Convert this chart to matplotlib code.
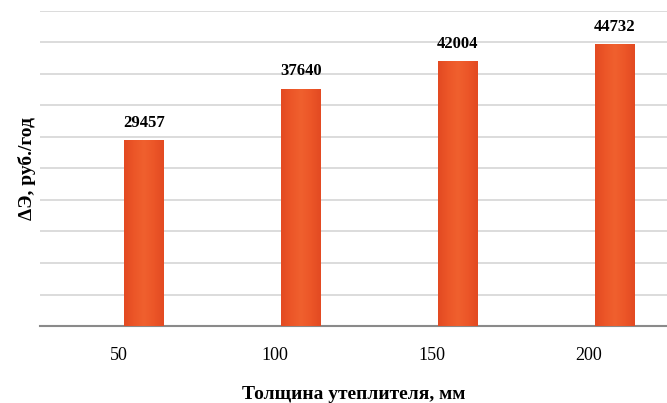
#!/usr/bin/env python3
"""Bar chart: economic effect vs insulation thickness."""

import numpy as np
import matplotlib
matplotlib.use("Agg")
import matplotlib.pyplot as plt
from matplotlib.colors import LinearSegmentedColormap

thickness = ["50", "100", "150", "200"]
effect = [29457, 37640, 42004, 44732]

plt.rcParams["font.family"] = ["Liberation Serif", "DejaVu Serif"]

figure = plt.figure(figsize=(6.67, 4.03), dpi=100)
axes = figure.add_axes([0.06, 0.191, 0.94, 0.782])

shade = LinearSegmentedColormap.from_list(
    "bar", ["#e34a22", "#ec5628", "#f0602e", "#ec5628", "#e34a22"])
gradient = np.linspace(0, 1, 64).reshape(1, -1)

positions = np.arange(len(thickness))
offset = 0.165
bars = axes.bar(positions + offset, effect, width=0.255, color="none",
                edgecolor="none", zorder=3)
for bar in bars:
    x0, y0 = bar.get_x(), bar.get_y()
    img = axes.imshow(gradient, cmap=shade, aspect="auto", zorder=3,
                      extent=[x0, x0 + bar.get_width(), y0, y0 + bar.get_height()])
    img.set_clip_path(bar)

for bar, value in zip(bars, effect):
    axes.text(bar.get_x() + bar.get_width() / 2, value + 1500, str(value),
              ha="center", va="bottom", fontsize=12, fontweight="bold", zorder=4)

axes.set_xlim(-0.5, 3.5)
axes.set_ylim(0, 50000)
axes.set_yticks(np.arange(5000, 50001, 5000))
axes.yaxis.grid(True, color="#dcdcdc", linewidth=1.4)
axes.set_axisbelow(True)
axes.tick_params(axis="y", left=False, labelleft=False)
axes.set_xticks(positions)
axes.set_xticklabels(thickness, fontsize=13)
axes.tick_params(axis="x", length=0, pad=15)
for side in ("top", "right", "left"):
    axes.spines[side].set_visible(False)
axes.spines["bottom"].set_color("#8a8a8a")
axes.spines["bottom"].set_linewidth(1.5)

axes.set_xlabel("Толщина утеплителя, мм", fontsize=14, fontweight="bold",
                labelpad=16)
axes.set_ylabel("ΔЭ, руб./год", fontsize=14, fontweight="bold", labelpad=3)

figure.savefig("out.png", dpi=100)
